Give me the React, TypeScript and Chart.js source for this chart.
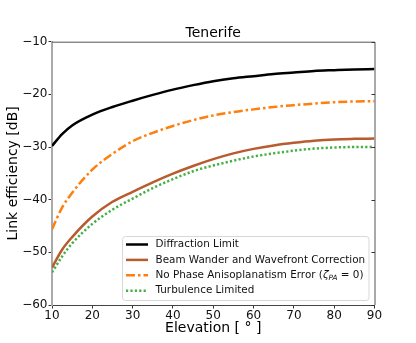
import React, { useEffect, useRef } from "react";
import { Chart, registerables } from "chart.js";

Chart.register(...registerables);

const chartTitle = "Tenerife";
const xLabel = "Elevation [ ° ]";
const yLabel = "Link efficiency [dB]";

const elevation = [10, 12.5, 15, 20, 25, 30, 35, 40, 45, 50, 55, 60, 65, 70, 75, 80, 85, 90];
const diffractionLimit = [-29.8, -27.55, -25.9, -23.85, -22.4, -21.2, -20.1, -19.1, -18.25, -17.5, -16.95, -16.55, -16.15, -15.85, -15.55, -15.4, -15.27, -15.2];
const beamWander = [-52.9, -49.5, -47.1, -43.2, -40.4, -38.5, -36.7, -35.05, -33.6, -32.3, -31.2, -30.35, -29.7, -29.2, -28.8, -28.55, -28.45, -28.4];
const noPhaseAniso = [-45.6, -41.5, -38.7, -34.3, -31.3, -28.9, -27.3, -26.0, -24.9, -24.0, -23.35, -22.85, -22.4, -22.05, -21.75, -21.5, -21.35, -21.3];
const turbulenceLimited = [-53.8, -50.8, -48.3, -44.6, -41.9, -39.8, -37.8, -36.1, -34.6, -33.5, -32.6, -31.8, -31.2, -30.7, -30.3, -30.1, -30.0, -30.0];

const seriesNames = [
  "Diffraction Limit",
  "Beam Wander and Wavefront Correction",
  "No Phase Anisoplanatism Error (ζ_PA = 0)",
  "Turbulence Limited",
];

const xTicks = [10, 20, 30, 40, 50, 60, 70, 80, 90];
const yTicks = [-60, -50, -40, -30, -20, -10];

const FONT = "'DejaVu Sans', sans-serif";

function drawRichText(ctx: CanvasRenderingContext2D, text: string, x: number, y: number, size: number) {
  const m = text.match(/^(.*\()(.)_(\w+)(.*)$/);
  ctx.textBaseline = "middle";
  ctx.textAlign = "left";
  if (!m) {
    ctx.font = `${size}px ${FONT}`;
    ctx.fillText(text, x, y);
    return;
  }
  let cx = x;
  ctx.font = `${size}px ${FONT}`;
  ctx.fillText(m[1], cx, y);
  cx += ctx.measureText(m[1]).width;
  ctx.font = `italic ${size}px ${FONT}`;
  ctx.fillText(m[2], cx, y);
  cx += ctx.measureText(m[2]).width;
  const sub = size * 0.7;
  ctx.font = `italic ${sub}px ${FONT}`;
  ctx.fillText(m[3], cx, y + size * 0.28);
  cx += ctx.measureText(m[3]).width;
  ctx.font = `${size}px ${FONT}`;
  ctx.fillText(m[4], cx, y);
}

const framePlugin = {
  id: "frameAndLegend",
  afterDraw(chart: any) {
    const { ctx, chartArea } = chart;
    const { left, right, top, bottom } = chartArea;
    ctx.save();
    // top and right spines
    ctx.strokeStyle = "#555";
    ctx.lineWidth = 1;
    ctx.beginPath();
    ctx.moveTo(left, top + 0.5);
    ctx.lineTo(right + 0.5, top + 0.5);
    ctx.lineTo(right + 0.5, bottom);
    ctx.stroke();
    // inward ticks on the right spine
    const ys = chart.scales.y;
    ctx.strokeStyle = "#333";
    ctx.beginPath();
    for (const v of yTicks) {
      const py = Math.round(ys.getPixelForValue(v)) + 0.5;
      ctx.moveTo(right - 3, py);
      ctx.lineTo(right + 0.5, py);
    }
    ctx.stroke();

    // legend
    const size = 10.4;
    const rowH = 15.4;
    const boxW = 246.5;
    const boxH = 64;
    const bx = right - 6 - boxW;
    const by = bottom - 5 - boxH;
    ctx.fillStyle = "rgba(255,255,255,0.85)";
    ctx.strokeStyle = "#d8d8d8";
    ctx.lineWidth = 1;
    ctx.beginPath();
    (ctx as any).roundRect(bx + 0.5, by + 0.5, boxW, boxH, 3);
    ctx.fill();
    ctx.stroke();
    chart.data.datasets.forEach((ds: any, i: number) => {
      const cy = by + 8.5 + i * rowH;
      ctx.strokeStyle = ds.borderColor;
      ctx.lineWidth = ds.borderWidth;
      ctx.setLineDash(ds.borderDash || []);
      ctx.lineCap = "butt";
      ctx.beginPath();
      ctx.moveTo(bx + 4, cy);
      ctx.lineTo(bx + 26, cy);
      ctx.stroke();
      ctx.setLineDash([]);
      ctx.fillStyle = "#111";
      drawRichText(ctx, ds.label, bx + 33.5, cy, size);
    });
    ctx.restore();
  },
};

export default function App() {
  const canvasRef = useRef<HTMLCanvasElement | null>(null);

  useEffect(() => {
    if (!canvasRef.current) return;
    const mk = (vals: number[]) => elevation.map((x, i) => ({ x, y: vals[i] }));
    const chart = new Chart(canvasRef.current, {
      type: "line",
      data: {
        datasets: [
          { label: seriesNames[0], data: mk(diffractionLimit), borderColor: "#000000", borderWidth: 2.5, pointRadius: 0, cubicInterpolationMode: "monotone" },
          { label: seriesNames[1], data: mk(beamWander), borderColor: "#b85b2d", borderWidth: 2.5, pointRadius: 0, cubicInterpolationMode: "monotone" },
          { label: seriesNames[2], data: mk(noPhaseAniso), borderColor: "#ff7f0e", borderWidth: 2.5, borderDash: [9, 3, 2.5, 3], pointRadius: 0, cubicInterpolationMode: "monotone" },
          { label: seriesNames[3], data: mk(turbulenceLimited), borderColor: "#44b044", borderWidth: 2.5, borderDash: [2.2, 2.2], pointRadius: 0, cubicInterpolationMode: "monotone" },
        ] as any,
      },
      options: {
        animation: false,
        responsive: false,
        events: [],
        layout: { padding: { left: 0, right: 41.5, top: 0, bottom: 0 } },
        plugins: {
          legend: { display: false },
          tooltip: { enabled: false },
          title: {
            display: true,
            text: chartTitle,
            fullSize: false,
            color: "#000",
            font: { family: FONT, size: 14, weight: "normal" as any, lineHeight: 1.2 },
            padding: { top: 24.6, bottom: 0.3 },
          },
        },
        scales: {
          x: {
            type: "linear",
            min: 10,
            max: 90,
            afterFit: (s: any) => { s.height = 38; },
            afterBuildTicks: (s: any) => { s.ticks = xTicks.map((v) => ({ value: v })); },
            border: { display: true, color: "#444", width: 1 },
            grid: { display: true, drawOnChartArea: false, drawTicks: true, tickLength: 3.5, color: "#333" },
            ticks: { color: "#111", font: { family: FONT, size: 12 }, padding: 0, maxRotation: 0 },
            title: { display: true, text: xLabel, color: "#000", font: { family: FONT, size: 14 }, padding: { top: 0, bottom: 6.6 } },
          },
          y: {
            type: "linear",
            min: -60,
            max: -10,
            afterFit: (s: any) => { s.width = 52; },
            afterBuildTicks: (s: any) => { s.ticks = yTicks.map((v) => ({ value: v })); },
            border: { display: true, color: "#aaaaaa", width: 2 },
            grid: { display: true, drawOnChartArea: false, drawTicks: true, tickLength: 3.5, color: "#333" },
            ticks: {
              color: "#111",
              font: { family: FONT, size: 12 },
              padding: 1,
              callback: (v: any) => (Number(v) < 0 ? "\u2212" + Math.abs(Number(v)) : String(v)),
            },
            title: { display: true, text: yLabel, color: "#000", font: { family: FONT, size: 14 }, padding: { top: 4.6, bottom: 0 } },
          },
        },
      },
      plugins: [framePlugin],
    });
    return () => chart.destroy();
  }, []);

  return (
    <div style={{ position: "fixed", left: 0, top: 0, width: 416, height: 343, background: "#fff" }}>
      <canvas ref={canvasRef} width={416} height={343} style={{ display: "block", width: 416, height: 343 }} />
    </div>
  );
}
